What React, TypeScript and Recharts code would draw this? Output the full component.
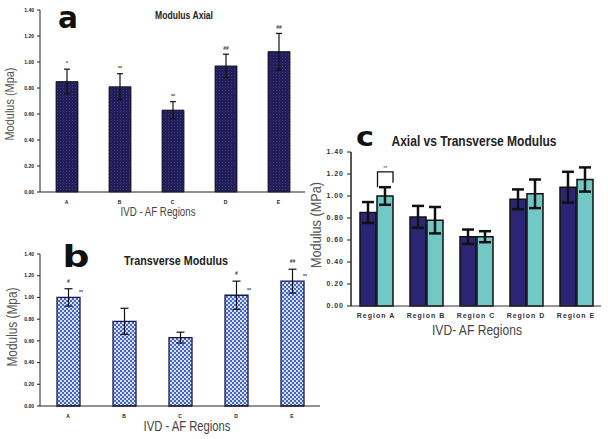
import { BarChart, Bar, XAxis, YAxis, ErrorBar, LabelList } from 'recharts';

const regions = ['A', 'B', 'C', 'D', 'E'];
const regionNames = ['Region A', 'Region B', 'Region C', 'Region D', 'Region E'];
const axialMean = [0.85, 0.81, 0.63, 0.97, 1.08];
const axialErr = [0.095, 0.1, 0.065, 0.09, 0.14];
const transMean = [1.0, 0.78, 0.63, 1.02, 1.15];
const transErr = [0.08, 0.12, 0.05, 0.13, 0.11];
const axialMarks = ['*', '**', '**', '##', '##'];
const transTopMarks = ['#', '', '', '#', '##'];
const transSideMarks = ['**', '', '', '**', '**'];
const bracketMarks = ['**', '', '', '', ''];
const yTicks = [0, 0.2, 0.4, 0.6, 0.8, 1.0, 1.2, 1.4];

const axialData = regions.map((r, i) => ({ region: r, mean: axialMean[i], err: axialErr[i], mark: axialMarks[i] }));
const transData = regions.map((r, i) => ({
  region: r,
  mean: transMean[i],
  err: transErr[i],
  top: transTopMarks[i],
  side: transSideMarks[i],
}));
const compareData = regionNames.map((r, i) => ({
  region: r,
  axial: axialMean[i],
  axialErr: axialErr[i],
  trans: transMean[i],
  transErr: transErr[i],
  bracket: bracketMarks[i],
}));

const FONT = '"Liberation Sans", Arial, sans-serif';
const fmt = (v: number) => v.toFixed(2);

// mark written above the top of the error bar
function topMark(means: number[], errs: number[], marks: string[], lift: number) {
  return (props: any) => {
    const i = props.index;
    const mark = marks[i];
    if (!mark) return null;
    const x = Number(props.x), y = Number(props.y), w = Number(props.width), h = Number(props.height);
    const top = y - (errs[i] * h) / means[i];
    return (
      <text x={x + w / 2} y={top - lift} textAnchor="middle" fontSize={5} fontWeight="bold" fill="#333" fontFamily={FONT}>
        {mark}
      </text>
    );
  };
}

function sideMark(props: any) {
  const mark = transSideMarks[props.index];
  if (!mark) return null;
  const x = Number(props.x), y = Number(props.y), w = Number(props.width);
  return (
    <text x={x + w + 1} y={y - 3} textAnchor="middle" fontSize={5} fontWeight="bold" fill="#333" fontFamily={FONT}>
      {mark}
    </text>
  );
}

function bracket(props: any) {
  const i = props.index;
  if (!bracketMarks[i]) return null;
  const x = Number(props.x), y = Number(props.y), w = Number(props.width), h = Number(props.height);
  const k = h / transMean[i];
  const top = y - 0.22 * k;
  const l = x + 0.5, r = x + w;
  return (
    <g>
      <path d={`M${l},${y - 0.08 * k} L${l},${top} L${r},${top} L${r},${y - 0.12 * k}`} fill="none" stroke="#111" strokeWidth={1.3} />
      <text x={(l + r) / 2} y={top - 2} textAnchor="middle" fontSize={5} fill="#333" fontFamily={FONT}>
        {bracketMarks[i]}
      </text>
    </g>
  );
}

function Overlay() {
  const t = (x: number, y: number, s: string, size: number, len: number, opts: any = {}) => (
    <text
      x={x}
      y={y}
      textAnchor="middle"
      dominantBaseline={opts.baseline ?? 'central'}
      fontSize={size}
      fontWeight={opts.bold ? 'bold' : 'normal'}
      fill={opts.fill ?? '#222'}
      fontFamily={opts.family ?? FONT}
      textLength={len}
      lengthAdjust="spacingAndGlyphs"
      transform={opts.rotate ? `rotate(-90 ${x} ${y})` : undefined}
    >
      {s}
    </text>
  );
  return (
    <svg width={608} height={439} style={{ position: 'absolute', left: 0, top: 0, pointerEvents: 'none' }}>
      {t(68, 28, 'a', 30, 20, { bold: true, baseline: 'alphabetic', family: '"DejaVu Sans", sans-serif', fill: '#111' })}
      {t(184, 15, 'Modulus Axial', 11, 58, { bold: true })}
      {t(9, 104, 'Modulus (Mpa)', 13, 73, { rotate: true, fill: '#555' })}
      {t(158, 212, 'IVD - AF Regions', 12.5, 75, { fill: '#444' })}

      {t(76, 267, 'b', 30, 27, { bold: true, baseline: 'alphabetic', family: '"DejaVu Sans", sans-serif', fill: '#111' })}
      {t(176, 260, 'Transverse Modulus', 13, 104, { bold: true })}
      {t(12, 327, 'Modulus (Mpa)', 14, 79, { rotate: true, fill: '#555' })}
      {t(187, 426, 'IVD - AF Regions', 14, 87, { fill: '#444' })}

      {t(365, 146, 'c', 27, 18, { bold: true, baseline: 'alphabetic', family: '"DejaVu Sans", sans-serif', fill: '#111' })}
      {t(474, 140, 'Axial vs Transverse Modulus', 15, 165, { bold: true })}
      {t(315, 225, 'Modulus (MPa)', 15, 86, { rotate: true, fill: '#555' })}
      {t(477, 329, 'IVD- AF Regions', 15, 90, { fill: '#444' })}
    </svg>
  );
}

const smallTick = { fontSize: 5, fontWeight: 'bold', fill: '#222', fontFamily: FONT };

function PanelA() {
  return (
    <div style={{ position: 'absolute', left: 0, top: 0 }}>
      <BarChart width={307} height={222} data={axialData} margin={{ top: 10, right: 2, left: 0, bottom: 0 }}>
        <defs>
          <pattern id="patA" width="3" height="3" patternUnits="userSpaceOnUse">
            <rect width="3" height="3" fill="#231d58" />
            <rect width="1" height="1" fill="#3d3785" />
          </pattern>
        </defs>
        <XAxis dataKey="region" height={30} tickLine={false} axisLine={{ stroke: '#222' }} tick={smallTick} tickSize={6} interval={0} />
        <YAxis
          domain={[0, 1.4]}
          ticks={yTicks}
          width={40}
          tickFormatter={fmt}
          tick={smallTick}
          tickSize={3}
          tickMargin={3}
          axisLine={{ stroke: '#222' }}
          tickLine={{ stroke: '#222' }}
        />
        <Bar dataKey="mean" fill="url(#patA)" stroke="#111" strokeWidth={0.8} barSize={22} isAnimationActive={false}>
          <ErrorBar dataKey="err" width={3} stroke="#111" strokeWidth={1.2} />
          <LabelList dataKey="mark" content={topMark(axialMean, axialErr, axialMarks, 4)} />
        </Bar>
      </BarChart>
    </div>
  );
}

function PanelB() {
  return (
    <div style={{ position: 'absolute', left: 0, top: 244 }}>
      <BarChart width={322} height={192} data={transData} margin={{ top: 10, right: 2, left: 0, bottom: 0 }}>
        <defs>
          <pattern id="patB" width="4" height="4" patternUnits="userSpaceOnUse">
            <rect width="4" height="4" fill="#4466cc" />
            <rect width="2" height="2" fill="#d6e0fa" />
            <rect x="2" y="2" width="2" height="2" fill="#d6e0fa" />
          </pattern>
        </defs>
        <XAxis dataKey="region" height={30} tickLine={false} axisLine={{ stroke: '#222' }} tick={smallTick} tickSize={6} interval={0} />
        <YAxis
          domain={[0, 1.4]}
          ticks={yTicks}
          width={40}
          tickFormatter={fmt}
          tick={smallTick}
          tickSize={3}
          tickMargin={3}
          axisLine={{ stroke: '#222' }}
          tickLine={{ stroke: '#222' }}
        />
        <Bar dataKey="mean" fill="url(#patB)" stroke="#1a1a48" strokeWidth={1.3} barSize={23} isAnimationActive={false}>
          <ErrorBar dataKey="err" width={4} stroke="#111" strokeWidth={1.2} />
          <LabelList dataKey="top" content={topMark(transMean, transErr, transTopMarks, 6)} />
          <LabelList dataKey="side" content={sideMark} />
        </Bar>
      </BarChart>
    </div>
  );
}

function PanelC() {
  const cTick = { fontSize: 7, fontWeight: 'bold', fill: '#333', fontFamily: FONT, letterSpacing: 1 };
  return (
    <div style={{ position: 'absolute', left: 300, top: 142 }}>
      <BarChart
        width={305}
        height={184}
        data={compareData}
        margin={{ top: 10, right: 4, left: 0, bottom: 0 }}
        barGap={1}
      >
        <XAxis dataKey="region" height={20} tickLine={false} axisLine={{ stroke: '#333', strokeWidth: 1.2 }} tick={cTick} tickSize={5} interval={0} />
        <YAxis
          domain={[0, 1.4]}
          ticks={yTicks}
          width={51}
          tickFormatter={fmt}
          tick={cTick}
          tickSize={4}
          tickMargin={3}
          axisLine={{ stroke: '#222', strokeWidth: 1.5 }}
          tickLine={{ stroke: '#222' }}
        />
        <Bar dataKey="axial" fill="#2c2474" stroke="#111" strokeWidth={1.5} barSize={16} isAnimationActive={false}>
          <ErrorBar dataKey="axialErr" width={6} stroke="#111" strokeWidth={2.5} />
        </Bar>
        <Bar dataKey="trans" fill="#72c8c4" stroke="#111" strokeWidth={1.5} barSize={16} isAnimationActive={false}>
          <ErrorBar dataKey="transErr" width={6} stroke="#111" strokeWidth={2.5} />
          <LabelList dataKey="bracket" content={bracket} />
        </Bar>
      </BarChart>
    </div>
  );
}

export default function App() {
  return (
    <div style={{ position: 'absolute', left: 0, top: 0, width: 608, height: 439, background: '#fff', fontFamily: FONT }}>
      <PanelA />
      <PanelB />
      <PanelC />
      <Overlay />
    </div>
  );
}
